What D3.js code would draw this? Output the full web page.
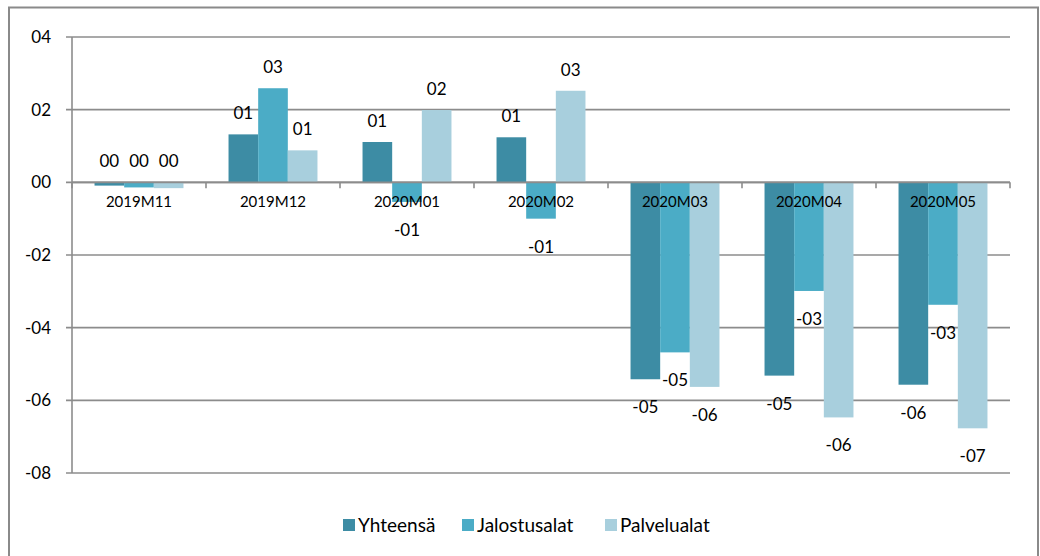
<!DOCTYPE html>
<html>
<head>
<meta charset="utf-8">
<script src="https://cdn.jsdelivr.net/npm/d3@7"></script>
<style>
  html, body { margin: 0; padding: 0; background: #fff; }
  svg { display: block; }
  text { font-family: Lato, "Open Sans", sans-serif; fill: #000; }
</style>
</head>
<body>
<svg id="chart" width="1040" height="556"></svg>
<script>
const categories = ["2019M11", "2019M12", "2020M01", "2020M02", "2020M03", "2020M04", "2020M05"];
const seriesNames = ["Yhteensä", "Jalostusalat", "Palvelualat"];
const yhteensa     = [-0.09, 1.32, 1.11, 1.24, -5.42, -5.32, -5.57];
const jalostusalat = [-0.14, 2.59, -0.54, -1.00, -4.68, -2.99, -3.37];
const palvelualat  = [-0.16, 0.88, 1.99, 2.52, -5.63, -6.47, -6.77];
const yTicks = [4, 2, 0, -2, -4, -6, -8];
const colors = ["#3d8ca4", "#4bacc6", "#a8cfdd"];

const seriesValues = [yhteensa, jalostusalat, palvelualat];

const svg = d3.select("#chart");

// outer frame
svg.append("rect").attr("x", 9).attr("y", 7.5).attr("width", 1029).attr("height", 560)
  .attr("fill", "none").attr("stroke", "#8a8a8a").attr("stroke-width", 2);

const pLeft = 72, pRight = 1010, pTop = 37, pBottom = 473;
const x = d3.scaleBand().domain(categories).range([pLeft, pRight]).paddingInner(0).paddingOuter(0);
const inner = d3.scaleBand().domain(seriesNames).range([0, x.bandwidth()]).paddingInner(0).paddingOuter(0.76);
const y = d3.scaleLinear().domain([-8, 4]).range([pBottom, pTop]);

const fmt = v => {
  const r = Math.round(v);
  const s = String(Math.abs(r)).padStart(2, "0");
  return (r < 0 ? "-" : "") + s;
};

// gridlines
svg.append("g").selectAll("line").data(yTicks).join("line")
  .attr("x1", pLeft - 6).attr("x2", pRight)
  .attr("y1", d => y(d)).attr("y2", d => y(d))
  .attr("stroke", "#8c8c8c").attr("stroke-width", 1.6);

// y axis line
svg.append("line").attr("x1", pLeft).attr("x2", pLeft).attr("y1", pTop).attr("y2", pBottom)
  .attr("stroke", "#8c8c8c").attr("stroke-width", 1.6);

// y tick labels
svg.append("g").selectAll("text").data(yTicks).join("text")
  .attr("x", 51).attr("y", d => y(d)).attr("dy", "0.35em")
  .attr("text-anchor", "end").attr("font-size", 17)
  .text(d => fmt(d));

// bars
const rows = [];
seriesNames.forEach((s, si) => {
  categories.forEach((c, ci) => rows.push({ s, si, c, v: seriesValues[si][ci] }));
});

svg.append("g").selectAll("rect").data(rows).join("rect")
  .attr("x", d => x(d.c) + inner(d.s))
  .attr("width", inner.bandwidth())
  .attr("y", d => y(Math.max(0, d.v)))
  .attr("height", d => Math.abs(y(d.v) - y(0)))
  .attr("fill", d => colors[d.si]);

// zero axis line + category ticks
svg.append("line").attr("x1", pLeft).attr("x2", pRight).attr("y1", y(0)).attr("y2", y(0))
  .attr("stroke", "#8c8c8c").attr("stroke-width", 1.6);
const boundaries = categories.map(c => x(c)).concat([pRight]);
svg.append("g").selectAll("line").data(boundaries).join("line")
  .attr("x1", d => d).attr("x2", d => d).attr("y1", y(0)).attr("y2", y(0) + 6)
  .attr("stroke", "#8c8c8c").attr("stroke-width", 1.6);

// category labels
svg.append("g").selectAll("text").data(categories).join("text")
  .attr("x", d => x(d) + x.bandwidth() / 2).attr("y", y(0) + 25)
  .attr("text-anchor", "middle").attr("font-size", 15)
  .text(d => d);

// data labels
svg.append("g").selectAll("text").data(rows).join("text")
  .attr("x", d => x(d.c) + inner(d.s) + inner.bandwidth() / 2)
  .attr("y", d => d.v >= -0.2 && d.v < 0 ? y(0) - 21 : (d.v >= 0 ? y(d.v) - 21 : y(d.v) + 28))
  .attr("dy", "0.35em")
  .attr("text-anchor", "middle").attr("font-size", 17)
  .text(d => fmt(d.v));

// legend
const legendX = [343, 462, 605];
const lg = svg.append("g").selectAll("g").data(seriesNames).join("g")
  .attr("transform", (d, i) => `translate(${legendX[i]},525)`);
lg.append("rect").attr("x", 0).attr("y", -6).attr("width", 12).attr("height", 12)
  .attr("fill", (d, i) => colors[i]);
lg.append("text").attr("x", 15).attr("y", 0).attr("dy", "0.35em")
  .attr("font-size", 19).text(d => d);
</script>
</body>
</html>
